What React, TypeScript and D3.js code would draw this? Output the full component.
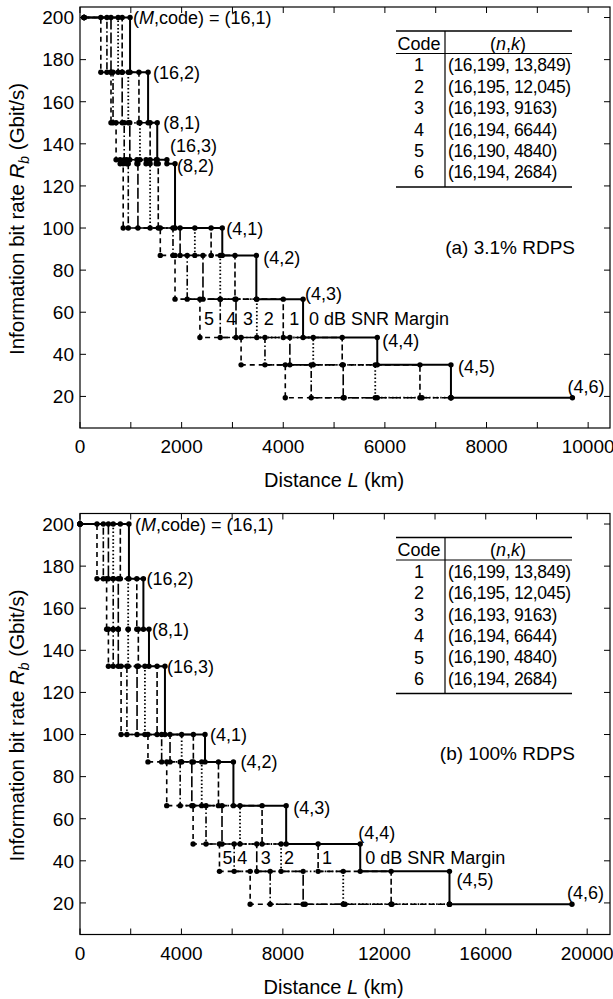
import React from "react";
import * as d3 from "d3";

// information bit rate of each (M, code) step, Gbit/s
const levelsA = [200, 174, 150, 132.4, 130.5, 100, 87, 66.2, 48, 35, 19.4];
const levelsB = [200, 174, 150, 132.4, 100, 87, 66.2, 48, 35, 19.4];

const namesA = ["(M,code) = (16,1)", "(16,2)", "(8,1)", "(16,3)", "(8,2)", "(4,1)", "(4,2)", "(4,3)", "(4,4)", "(4,5)", "(4,6)"];
const namesB = ["(M,code) = (16,1)", "(16,2)", "(8,1)", "(16,3)", "(4,1)", "(4,2)", "(4,3)", "(4,4)", "(4,5)", "(4,6)"];

// reach (km) on each step, for SNR margin 0..5 dB — (a) 3.1% RDPS
const reachA0 = [985, 1340, 1520, 1710, 1870, 2800, 3470, 4390, 5850, 7300, 9690];
const reachA1 = [830, 1160, 1380, 1500, 1540, 2580, 3050, 4000, 5160, 6690, 7300];
const reachA2 = [750, 950, 1180, 1300, 1380, 2260, 2760, 3480, 4590, 5810, 7300];
const reachA3 = [610, 830, 980, 1120, 1140, 1970, 2420, 3070, 4130, 5180, 6730];
const reachA4 = [530, 650, 870, 920, 950, 1830, 2110, 2760, 3640, 4550, 5850];
const reachA5 = [410, 610, 710, 790, 850, 1580, 1870, 2360, 3170, 4040, 5200];

// (b) 100% RDPS
const reachB0 = [1930, 2500, 2720, 3350, 4930, 6050, 8130, 11050, 14570, 19400];
const reachB1 = [1590, 2240, 2300, 3040, 4470, 5460, 7180, 9390, 12270, 14570];
const reachB2 = [1310, 1900, 1900, 2560, 4010, 4800, 6310, 7930, 10380, 14570];
const reachB3 = [1120, 1510, 1510, 2250, 3550, 4410, 5600, 6970, 8800, 12300];
const reachB4 = [920, 1310, 1310, 1850, 3220, 3950, 4970, 6080, 7500, 10450];
const reachB5 = [670, 1050, 1120, 1620, 2680, 3420, 4460, 5500, 6710, 8880];

const margins = ["0 dB SNR Margin", "1", "2", "3", "4", "5"];

const codes = ["1", "2", "3", "4", "5", "6"];
const nk = ["(16,199, 13,849)", "(16,195, 12,045)", "(16,193, 9163)", "(16,194, 6644)", "(16,190, 4840)", "(16,194, 2684)"];

const yTicks = [20, 40, 60, 80, 100, 120, 140, 160, 180, 200];

// styles
const dashes = ["", "6,3", "1.5,2.2", "11,3", "7,2.5,1.5,2.5", "5,4"];
const widths = [2, 1.6, 1.8, 1.6, 1.6, 1.6];
const FONT = "'Liberation Sans', Arial, Helvetica, sans-serif";
const LEFT = 80;
const RIGHT = 610;
const PH = 421;

type PanelProps = {
  top: number;
  levels: number[];
  names: string[];
  reaches: number[][];
  start: number;
  xMax: number;
  xTickStep: number;
  xLabelStep: number;
  xLabelMax: number;
  nameOffsets: number[][];
  marginIdx: number;
  marginDx: number[];
  caption: string;
};

function Panel(p: PanelProps) {
  const x = d3.scaleLinear().domain([0, p.xMax]).range([LEFT, RIGHT]);
  const y = d3.scaleLinear().domain([5, 205]).range([p.top + PH, p.top]);
  const bottom = p.top + PH;
  const xTicks = d3.range(0, p.xLabelMax + 1, p.xTickStep);
  const xLabels = d3.range(0, p.xLabelMax + 1, p.xLabelStep);
  const line = d3.line<number[]>().x((d) => x(d[0])).y((d) => y(d[1]));

  const curves = p.reaches.map((r) => {
    const pts: number[][] = [[p.start, p.levels[0]]];
    r.forEach((v, i) => {
      pts.push([v, p.levels[i]]);
      if (i < r.length - 1) pts.push([v, p.levels[i + 1]]);
    });
    return pts;
  });

  const order = [5, 4, 3, 2, 1, 0];
  const r0 = p.reaches[0];
  const mY = (y(p.levels[p.marginIdx]) + y(p.levels[p.marginIdx + 1])) / 2;
  const tTop = p.top + 24;

  return (
    <g fontFamily={FONT} fill="#000">
      {order.map((m) => (
        <path
          key={"c" + m}
          d={line(curves[m]) || ""}
          fill="none"
          stroke="#000"
          strokeWidth={widths[m]}
          strokeDasharray={dashes[m]}
        />
      ))}
      {order.map((m) =>
        curves[m].map((d, i) => (
          <circle key={`d${m}-${i}`} cx={x(d[0])} cy={y(d[1])} r={2.7} fill="#000" />
        ))
      )}
      {/* step names at the 0 dB curve */}
      {p.names.map((n, i) => {
        const off = p.nameOffsets[i];
        const parts = n.startsWith("(M") ? (
          <>
            (<tspan fontStyle="italic">M</tspan>,code) = (16,1)
          </>
        ) : (
          n
        );
        return (
          <text key={"n" + i} x={x(r0[i]) + off[0]} y={y(p.levels[i]) + off[1]} dy="0.36em" fontSize={18}>
            {parts}
          </text>
        );
      })}
      {/* margin labels */}
      {margins.map((t, m) => (
        <text
          key={"m" + m}
          x={x(p.reaches[m][p.marginIdx]) + p.marginDx[m]}
          y={mY}
          dy="0.36em"
          fontSize={18}
        >
          {t}
        </text>
      ))}
      {/* frame */}
      <rect x={LEFT} y={p.top} width={RIGHT - LEFT} height={PH} fill="none" stroke="#000" strokeWidth={1.2} />
      {xTicks.map((t) => (
        <g key={"xt" + t}>
          <line x1={x(t)} x2={x(t)} y1={bottom} y2={bottom - 6} stroke="#000" strokeWidth={1} />
          <line x1={x(t)} x2={x(t)} y1={p.top} y2={p.top + 6} stroke="#000" strokeWidth={1} />
        </g>
      ))}
      {xLabels.map((t) => (
        <text key={"xl" + t} x={x(t)} y={bottom + 25} textAnchor="middle" fontSize={19}>
          {t}
        </text>
      ))}
      {yTicks.map((t) => (
        <g key={"yt" + t}>
          <line x1={LEFT} x2={LEFT + 6} y1={y(t)} y2={y(t)} stroke="#000" strokeWidth={1} />
          <line x1={RIGHT} x2={RIGHT - 6} y1={y(t)} y2={y(t)} stroke="#000" strokeWidth={1} />
          <text x={LEFT - 6} y={y(t)} dy="0.36em" textAnchor="end" fontSize={19}>
            {t}
          </text>
        </g>
      ))}
      <text x={(x(0) + x(p.xLabelMax)) / 2} y={bottom + 59} textAnchor="middle" fontSize={20}>
        Distance <tspan fontStyle="italic">L</tspan> (km)
      </text>
      <text transform={`translate(24,${p.top + 212}) rotate(-90)`} textAnchor="middle" fontSize={20.5}>
        Information bit rate <tspan fontStyle="italic">R</tspan>
        <tspan fontStyle="italic" fontSize={14} dy={5}>
          b
        </tspan>
        <tspan dy={-5}> (Gbit/s)</tspan>
      </text>
      <text x={575} y={p.top + 240} dy="0.36em" textAnchor="end" fontSize={19}>
        {p.caption}
      </text>
      {/* code table */}
      <line x1={396} x2={572} y1={tTop} y2={tTop} stroke="#000" strokeWidth={1.6} />
      <line x1={396} x2={572} y1={tTop + 22.5} y2={tTop + 22.5} stroke="#000" strokeWidth={1} />
      <line x1={396} x2={572} y1={tTop + 156} y2={tTop + 156} stroke="#000" strokeWidth={1.6} />
      <line x1={445} x2={445} y1={tTop} y2={tTop + 156} stroke="#000" strokeWidth={1.2} />
      <text x={419} y={tTop + 12.5} dy="0.36em" textAnchor="middle" fontSize={18}>
        Code
      </text>
      <text x={508} y={tTop + 12.5} dy="0.36em" textAnchor="middle" fontSize={18}>
        (<tspan fontStyle="italic">n</tspan>,<tspan fontStyle="italic">k</tspan>)
      </text>
      {codes.map((c, i) => (
        <g key={"row" + c}>
          <text x={419} y={tTop + 34 + i * 21.4} dy="0.36em" textAnchor="middle" fontSize={18}>
            {c}
          </text>
          <text x={448} y={tTop + 34 + i * 21.4} dy="0.36em" fontSize={17.5} letterSpacing={-0.35}>
            {nk[i]}
          </text>
        </g>
      ))}
    </g>
  );
}

export default function App() {
  return (
    <svg width={613} height={999} style={{ position: "absolute", left: 0, top: 0, background: "#fff" }}>
      <rect width={613} height={999} fill="#fff" />
      <Panel
        top={7}
        levels={levelsA}
        names={namesA}
        reaches={[reachA0, reachA1, reachA2, reachA3, reachA4, reachA5]}
        start={80}
        xMax={10430}
        xTickStep={1000}
        xLabelStep={2000}
        xLabelMax={10000}
        nameOffsets={[[3, 0], [5, 0], [6, 0], [3, -14], [2, 2], [4, 0], [7, 2], [2, -6], [5, 3], [7, 2], [-5, -11]]}
        marginIdx={7}
        marginDx={[6, 6, 7, 7, 6, 4]}
        caption="(a) 3.1% RDPS"
      />
      <Panel
        top={513.5}
        levels={levelsB}
        names={namesB}
        reaches={[reachB0, reachB1, reachB2, reachB3, reachB4, reachB5]}
        start={0}
        xMax={20900}
        xTickStep={2000}
        xLabelStep={4000}
        xLabelMax={20000}
        nameOffsets={[[6, 0], [3, 0], [3, 0], [2, 0], [5, 0], [7, 0], [7, 2], [-2, -11], [7, 8], [-5, -12]]}
        marginIdx={7}
        marginDx={[5, 4, 3, 4, 3, 3]}
        caption="(b) 100% RDPS"
      />
    </svg>
  );
}
